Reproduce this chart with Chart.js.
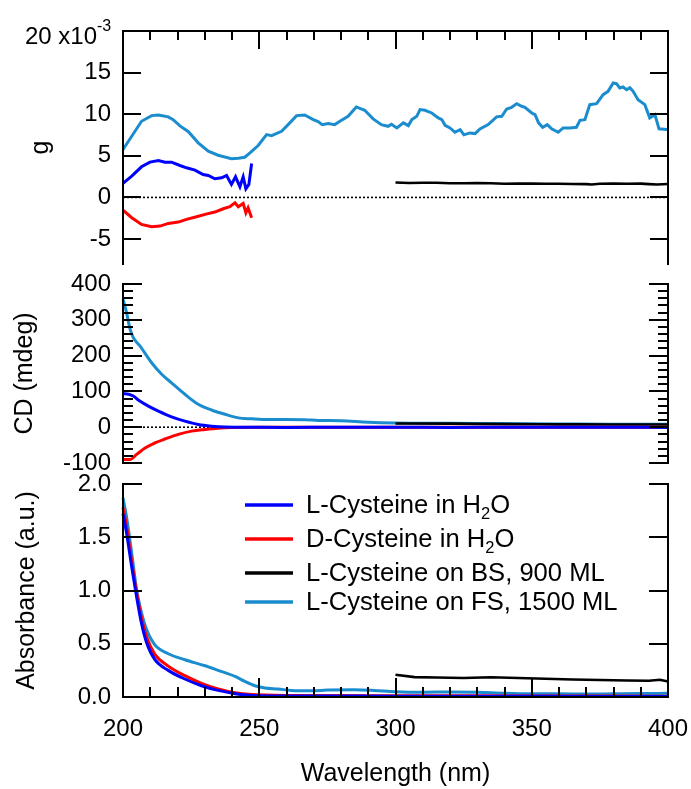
<!DOCTYPE html>
<html><head><meta charset="utf-8">
<script src="https://cdn.jsdelivr.net/npm/chart.js@4.4.0/dist/chart.umd.min.js"></script>
<style>
html,body{margin:0;padding:0;background:#fff;}
#wrap{position:relative;width:691px;height:789px;background:#fff;}
canvas{position:absolute;left:0;top:0;}
</style></head><body>
<div id="wrap">
<canvas id="cA" width="691" height="789"></canvas>
<canvas id="cB" width="691" height="789"></canvas>
<canvas id="cC" width="691" height="789"></canvas>
</div>
<script>
// ---------- series names ----------
const seriesNames = ['L-Cysteine in H2O', 'D-Cysteine in H2O', 'L-Cysteine on BS, 900 ML', 'L-Cysteine on FS, 1500 ML'];
const legendParts = [['L-Cysteine in H', '2', 'O'], ['D-Cysteine in H', '2', 'O'], ['L-Cysteine on BS, 900 ML', '', ''], ['L-Cysteine on FS, 1500 ML', '', '']];

// ---------- tick labels ----------
const xTicks = [200, 250, 300, 350, 400];
const gTicks = [20, 15, 10, 5, 0, -5];
const cdTicks = [400, 300, 200, 100, 0, -100];
const absTicks = [2.0, 1.5, 1.0, 0.5, 0.0];

// ---------- top panel: g (x10^-3) ----------
const gLWl  = [200, 203.2, 206.8, 209.9, 213, 215.4, 217.8, 220.9, 223.3, 226.4, 229.4, 231.3, 233.7, 236.2, 238, 239.8, 241.3, 242.9, 244.1, 245.1, 246.2, 247.2];
const gLVal = [1.68, 2.56, 3.68, 4.24, 4.44, 4.24, 4.24, 3.84, 3.56, 3.28, 2.76, 2.64, 2.24, 2.36, 2.64, 1.56, 2.48, 1.28, 2.48, 1.04, 1.56, 4.08];
const gDWl  = [200, 203.2, 206.8, 210.5, 213.6, 216.6, 220.3, 223.3, 227, 230.1, 233.7, 236.8, 239.2, 241.1, 242.3, 244.1, 245.1, 245.9, 247.2];
const gDVal = [-1.52, -2.44, -3.24, -3.52, -3.44, -3.12, -2.96, -2.64, -2.32, -2.04, -1.76, -1.36, -1.12, -0.64, -1.12, -0.72, -1.84, -1.24, -2.44];
const gBSWl  = [300, 305, 310, 315, 320, 325, 330, 335, 340, 345, 350, 355, 360, 365, 370, 372, 375, 380, 385, 390, 393, 396, 400];
const gBSVal = [1.8, 1.74, 1.76, 1.76, 1.7, 1.7, 1.72, 1.7, 1.65, 1.66, 1.66, 1.64, 1.65, 1.62, 1.6, 1.56, 1.64, 1.66, 1.64, 1.66, 1.6, 1.56, 1.62];
const gFSWl  = [200, 203.2, 206.8, 210.5, 213, 216.6, 218.4, 220.9, 224, 227.6, 231.3, 234.9, 239.8, 242.3, 244.7, 246.6, 249.6, 252.7, 254.5, 258.2, 260.6, 263.7, 266.7, 269.8, 271.6, 273.1, 275.3, 277.7, 279.6, 282.6, 285.6, 288.7, 291.8, 294.8, 297.3, 298.5, 300.5, 302.9, 304.7, 306, 307.8, 309, 310.8, 313.3, 315.7, 317, 318.2, 320, 321.8, 323.7, 325.1, 327.3, 329.2, 331, 334, 337.1, 339, 340.8, 342.6, 344.5, 346.3, 347.5, 350, 351.2, 352.5, 354, 355.7, 357.3, 359.7, 361.5, 364, 366.4, 367.7, 369.5, 371.3, 373.8, 376.2, 378, 379.9, 381.1, 382.3, 383.5, 384.8, 386, 387.2, 389, 391.5, 393.3, 395.2, 396.7, 399.5, 400];
const gFSVal = [5.76, 7.35, 9.15, 9.83, 9.91, 9.68, 9.35, 8.6, 7.9, 6.56, 5.55, 5.07, 4.64, 4.72, 4.83, 5.36, 6.24, 7.55, 7.43, 7.95, 8.75, 9.83, 9.91, 9.35, 9.11, 8.75, 8.87, 8.75, 9.15, 9.75, 10.87, 10.47, 9.44, 8.75, 8.55, 8.79, 8.35, 8.96, 8.63, 9.35, 9.75, 10.55, 10.47, 10.15, 9.56, 9.35, 8.67, 8.35, 7.83, 8.15, 7.52, 7.75, 7.67, 8.24, 8.75, 9.68, 9.75, 10.63, 10.83, 11.27, 10.95, 10.83, 10.15, 9.95, 8.96, 8.43, 8.75, 8.24, 7.83, 8.35, 8.35, 8.43, 9.27, 9.35, 11.15, 11.27, 12.35, 12.75, 13.75, 13.67, 13.15, 13.27, 12.95, 13.19, 12.75, 11.75, 11.15, 9.56, 9.95, 8.24, 8.15, 8.15];

// ---------- middle panel: CD (mdeg) ----------
const cdLWl  = [200, 202, 203.8, 205.6, 209.3, 213, 217.8, 222.7, 227.6, 232.5, 237.4, 245, 260, 280, 300, 320, 340, 360, 380, 400];
const cdLVal = [94, 92, 87, 76, 59, 45, 29, 17, 7.6, 2.8, 0.5, 0, -0.5, 0, 0, -0.5, 0, 0, -0.3, -0.5];
const cdDWl  = [200, 202.6, 205, 208.1, 211.7, 215.4, 220.3, 225.2, 230.1, 234.9, 240, 250, 270, 300, 330, 360, 400];
const cdDVal = [-90, -90, -76, -58, -44, -33, -20, -11, -6.4, -2.8, -1, 0, 0, 0, 0, 0, 0];
const cdBSWl  = [300, 320, 340, 360, 380, 400];
const cdBSVal = [10.5, 10, 8.5, 8, 7.5, 7.5];
const cdFSWl  = [200, 201.3, 202.6, 203.8, 206.2, 210.5, 214.2, 217.8, 222.7, 227.6, 232.5, 237.4, 242.3, 247.2, 253.3, 259.4, 266.7, 271.6, 280, 290, 300, 320, 340, 360, 380, 400];
const cdFSVal = [358, 320, 274, 250, 227, 180, 148, 124, 92, 64, 48, 36, 26, 23.5, 21.5, 21.5, 21, 19, 18, 14, 12, 11, 10, 9, 8, 8];

// ---------- bottom panel: Absorbance (a.u.) ----------
const abLWl  = [200, 201.3, 203.2, 205, 206.8, 208.7, 211.7, 216.6, 222.7, 228.8, 234.9, 241.1, 247, 260, 300, 350, 400];
const abLVal = [1.72, 1.54, 1.22, 0.94, 0.69, 0.506, 0.35, 0.25, 0.169, 0.106, 0.062, 0.031, 0.015, 0.01, 0.008, 0.006, 0.005];
const abDWl  = [200, 201.3, 203.2, 205, 206.8, 208.7, 211.7, 216.6, 222.7, 228.8, 234.9, 241.1, 247, 260, 300, 350, 400];
const abDVal = [1.78, 1.6, 1.27, 0.98, 0.74, 0.56, 0.40, 0.29, 0.2, 0.128, 0.075, 0.04, 0.024, 0.015, 0.012, 0.01, 0.008];
const abBSWl  = [300, 307, 315, 325, 335, 345, 355, 365, 375, 385, 393, 397, 400];
const abBSVal = [0.209, 0.187, 0.183, 0.178, 0.185, 0.178, 0.172, 0.165, 0.16, 0.155, 0.153, 0.162, 0.146];
const abFSWl  = [200, 201.3, 203.2, 205, 206.8, 208.7, 211.7, 216.6, 222.7, 230.1, 234.9, 241.1, 244.7, 248.4, 252.1, 256.9, 261.8, 269.1, 275, 285, 292, 300, 310, 320, 330, 340, 350, 360, 370, 380, 390, 400];
const abFSVal = [1.87, 1.69, 1.35, 1.006, 0.79, 0.63, 0.49, 0.406, 0.35, 0.293, 0.25, 0.193, 0.146, 0.106, 0.084, 0.075, 0.062, 0.059, 0.065, 0.068, 0.062, 0.05, 0.045, 0.048, 0.045, 0.035, 0.03, 0.03, 0.028, 0.03, 0.032, 0.035];

// ---------- styling ----------
const COLORS = ['#0000ff', '#ff0000', '#000000', '#1b8dcf'];
const FONT = '"Liberation Sans", Arial, Helvetica, sans-serif';
Chart.defaults.font.family = FONT;
Chart.defaults.color = '#000';

function ds(i, wl, val, smooth) {
  return {
    label: seriesNames[i],
    data: wl.map((x, k) => ({ x: x, y: val[k] })),
    borderColor: COLORS[i], backgroundColor: COLORS[i],
    borderWidth: i === 2 ? 2.6 : 3, pointRadius: 0, fill: false,
    tension: smooth ? 0.35 : 0, cubicInterpolationMode: smooth ? 'monotone' : 'default',
    clip: 4
  };
}

function minorList(from, to, step, majorStep) {
  const out = [];
  for (let v = from; v <= to + 1e-9; v += step) {
    const r = Math.round(v * 1000) / 1000;
    if (Math.abs(r / majorStep - Math.round(r / majorStep)) > 1e-6) out.push(r);
  }
  return out;
}

const framePlugin = {
  id: 'frame',
  beforeDatasetsDraw(chart, args, o) {
    if (!o.zero) return;
    const { ctx, chartArea: a, scales: { y } } = chart;
    const py = y.getPixelForValue(0);
    ctx.save();
    ctx.strokeStyle = '#000'; ctx.lineWidth = 1.6; ctx.setLineDash([2, 2]);
    ctx.beginPath(); ctx.moveTo(a.left, py); ctx.lineTo(a.right, py); ctx.stroke();
    ctx.restore();
  },
  afterDatasetsDraw(chart, args, o) {
    const { ctx, chartArea: a, scales: { x, y } } = chart;
    const L = a.left, R = a.right, T = a.top, B = a.bottom;
    ctx.save();
    ctx.strokeStyle = '#000'; ctx.lineWidth = 2; ctx.lineCap = 'square';
    ctx.beginPath();
    if (o.sides.includes('left')) { ctx.moveTo(L, T); ctx.lineTo(L, B); }
    if (o.sides.includes('right')) { ctx.moveTo(R, T); ctx.lineTo(R, B); }
    if (o.sides.includes('top')) { ctx.moveTo(L, T); ctx.lineTo(R, T); }
    if (o.sides.includes('bottom')) { ctx.moveTo(L, B); ctx.lineTo(R, B); }
    ctx.stroke();
    ctx.lineCap = 'butt';
    ctx.beginPath();
    const yt = (vals, len) => vals.forEach(v => {
      const py = Math.round(y.getPixelForValue(v));
      ctx.moveTo(L, py); ctx.lineTo(L + len, py);
      ctx.moveTo(R, py); ctx.lineTo(R - len, py);
    });
    yt(o.yMajor || [], o.majorLen);
    yt(o.yMinor || [], o.minorLen);
    if (o.xEdge) {
      const ey = o.xEdge === 'top' ? T : B;
      const dir = o.xEdge === 'top' ? 1 : -1;
      const xt = (vals, len) => vals.forEach(v => {
        const px = Math.round(x.getPixelForValue(v));
        ctx.moveTo(px, ey); ctx.lineTo(px, ey + dir * len);
      });
      xt(o.xMajor || [], o.xMajorLen);
      xt(o.xMinor || [], o.xMinorLen);
    }
    ctx.stroke();
    ctx.restore();
  },
  afterDraw(chart, args, o) {
    const ctx = chart.ctx;
    if (o.exponent) {
      const y = chart.scales.y;
      const py = y.getPixelForValue(gTicks[0]);
      ctx.save();
      ctx.fillStyle = '#000';
      ctx.font = '24px ' + FONT;
      ctx.textAlign = 'right'; ctx.textBaseline = 'middle';
      ctx.fillText(gTicks[0] + ' x10', 97, py + 6);
      ctx.font = '16px ' + FONT;
      ctx.textAlign = 'left';
      ctx.fillText('-3', 97, py - 4);
      ctx.restore();
    }
    if (o.legend) {
      const rowsY = [505, 539, 573, 602];
      ctx.save();
      ctx.textBaseline = 'middle';
      chart.data.datasets.forEach((d, i) => {
        const yy = rowsY[i];
        ctx.strokeStyle = d.borderColor; ctx.lineWidth = 3.5;
        ctx.beginPath(); ctx.moveTo(245, yy); ctx.lineTo(293, yy); ctx.stroke();
        const p = legendParts[i];
        ctx.fillStyle = '#000';
        ctx.font = '25.6px ' + FONT;
        let xx = 306;
        ctx.fillText(p[0], xx, yy + 1);
        xx += ctx.measureText(p[0]).width;
        if (p[1]) {
          ctx.font = '16.5px ' + FONT;
          ctx.fillText(p[1], xx, yy + 9);
          xx += ctx.measureText(p[1]).width;
          ctx.font = '25.6px ' + FONT;
          ctx.fillText(p[2], xx, yy + 1);
        }
      });
      ctx.restore();
    }
  }
};

function yAxis(min, max, ticks, title, titlePad, fmt) {
  return {
    type: 'linear', position: 'left', min: min, max: max,
    afterFit: s => { s.width = 123; s.paddingTop = 0; s.paddingBottom = 0; },
    afterBuildTicks: s => { s.ticks = ticks.map(v => ({ value: v })); },
    grid: { display: false, drawTicks: false, tickLength: 0 },
    border: { display: false },
    ticks: { font: { size: 24 }, color: '#000', padding: 12, callback: fmt },
    title: { display: true, text: title, font: { size: 25 }, color: '#000', padding: { top: titlePad, bottom: 0 } }
  };
}

const baseOpts = {
  responsive: false, animation: false, devicePixelRatio: 1,
  events: [],
  plugins: { legend: { display: false }, tooltip: { enabled: false } }
};

// ---------- top chart: g ----------
new Chart(document.getElementById('cA'), {
  type: 'line',
  data: { datasets: [
    ds(0, gLWl, gLVal, false), ds(1, gDWl, gDVal, false),
    ds(2, gBSWl, gBSVal, false), ds(3, gFSWl, gFSVal, false)
  ] },
  options: Object.assign({}, baseOpts, {
    layout: { padding: { left: 0, right: 23, top: 31, bottom: 525 } },
    plugins: Object.assign({}, baseOpts.plugins, {
      frame: { sides: ['left', 'right', 'top'], zero: true,
        yMajor: gTicks.slice(1), majorLen: 18, yMinor: [], minorLen: 9,
        xEdge: 'top', xMajor: [250, 300, 350], xMajorLen: 18, xMinor: minorList(200, 400, 10, 50), xMinorLen: 9,
        exponent: true }
    }),
    scales: {
      x: { type: 'linear', min: 200, max: 400, display: false },
      y: yAxis(-8, 20, gTicks, 'g', 26, v => (v === gTicks[0] ? '' : String(v)))
    }
  }),
  plugins: [framePlugin]
});

// ---------- middle chart: CD ----------
new Chart(document.getElementById('cB'), {
  type: 'line',
  data: { datasets: [
    ds(0, cdLWl, cdLVal, true), ds(1, cdDWl, cdDVal, true),
    ds(2, cdBSWl, cdBSVal, true), ds(3, cdFSWl, cdFSVal, true)
  ] },
  options: Object.assign({}, baseOpts, {
    layout: { padding: { left: 0, right: 23, top: 284, bottom: 326 } },
    plugins: Object.assign({}, baseOpts.plugins, {
      frame: { sides: ['left', 'right'], zero: true,
        yMajor: cdTicks, majorLen: 19, yMinor: minorList(-100, 400, 20, 100), minorLen: 10 }
    }),
    scales: {
      x: { type: 'linear', min: 200, max: 400, display: false },
      y: yAxis(-100, 400, cdTicks, 'CD (mdeg)', 10, v => String(v))
    }
  }),
  plugins: [framePlugin]
});

// ---------- bottom chart: Absorbance ----------
new Chart(document.getElementById('cC'), {
  type: 'line',
  data: { datasets: [
    ds(0, abLWl, abLVal, true), ds(1, abDWl, abDVal, true),
    ds(2, abBSWl, abBSVal, false), ds(3, abFSWl, abFSVal, true)
  ] },
  options: Object.assign({}, baseOpts, {
    layout: { padding: { left: 0, right: 23, top: 484, bottom: 0 } },
    plugins: Object.assign({}, baseOpts.plugins, {
      frame: { sides: ['left', 'right', 'bottom'], zero: false,
        yMajor: absTicks.slice(0, 4), majorLen: 19, yMinor: [], minorLen: 10,
        xEdge: 'bottom', xMajor: [250, 300, 350], xMajorLen: 19, xMinor: minorList(200, 400, 10, 50), xMinorLen: 10,
        legend: true }
    }),
    scales: {
      x: {
        type: 'linear', position: 'bottom', min: 200, max: 400,
        afterFit: s => { s.height = 92; s.paddingLeft = 0; s.paddingRight = 0; },
        afterBuildTicks: s => { s.ticks = xTicks.map(v => ({ value: v })); },
        grid: { display: false, drawTicks: false, tickLength: 0 },
        border: { display: false },
        ticks: { font: { size: 24 }, color: '#000', padding: 18, maxRotation: 0, autoSkip: false, callback: v => String(v) },
        title: { display: true, text: 'Wavelength (nm)', font: { size: 25 }, color: '#000', padding: { top: 0, bottom: 0 } }
      },
      y: yAxis(0, 2, absTicks, 'Absorbance (a.u.)', 12, v => Number(v).toFixed(1))
    }
  }),
  plugins: [framePlugin]
});
</script>
</body></html>
